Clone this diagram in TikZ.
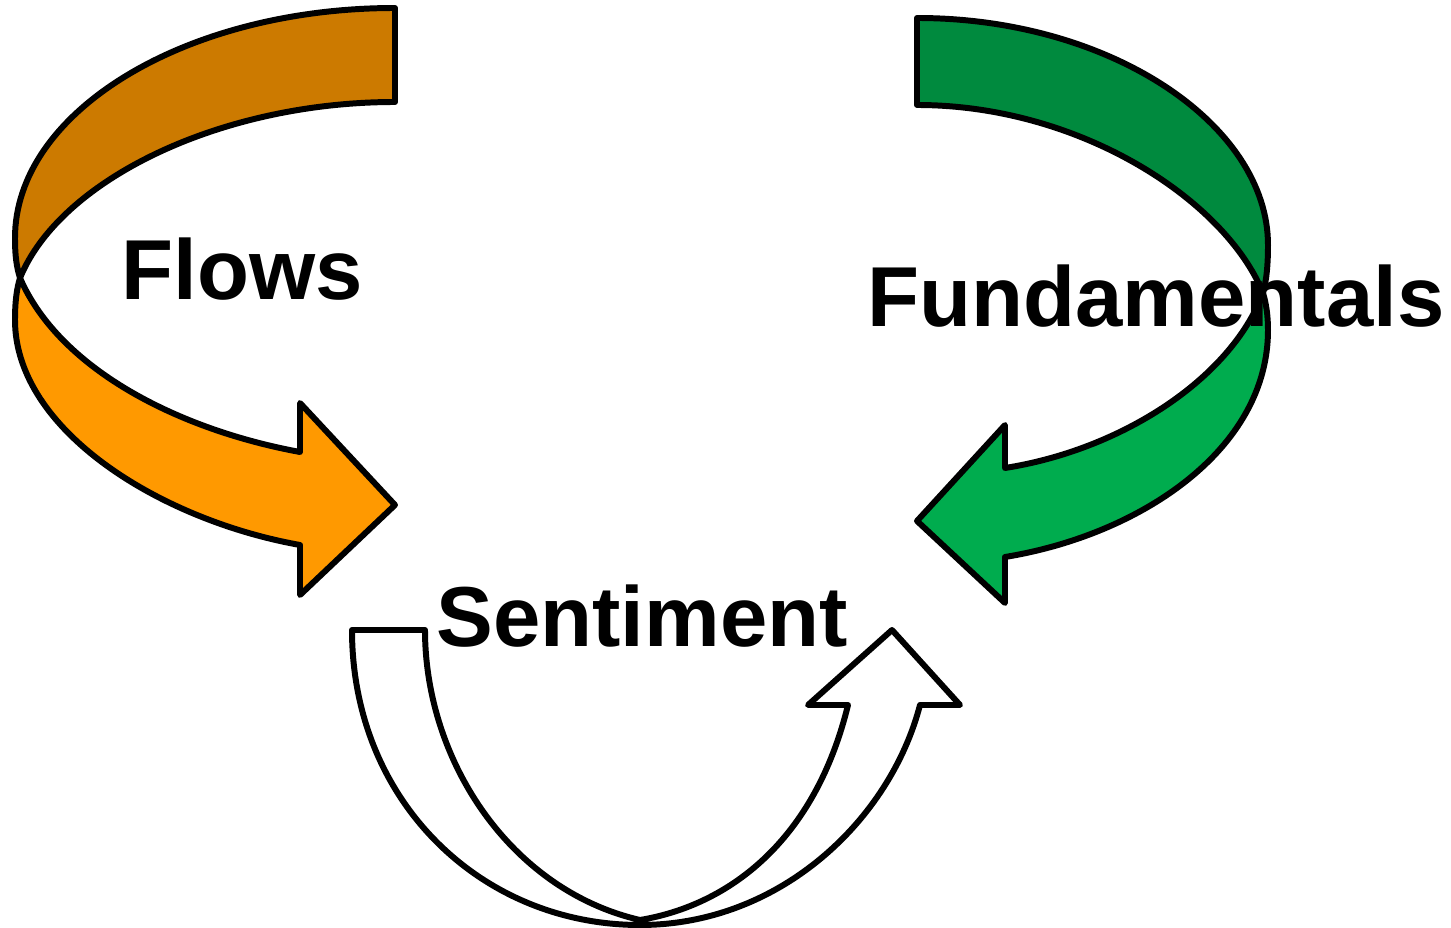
\documentclass[tikz,border=0pt]{standalone}
\usepackage{fontspec}
\setmainfont{Liberation Sans}
\definecolor{flowsback}{RGB}{204,122,0}
\definecolor{flowsfront}{RGB}{255,153,0}
\definecolor{fundback}{RGB}{0,138,62}
\definecolor{fundfront}{RGB}{0,172,78}
\tikzset{fleche/.style = {draw = black, line width = 1.7pt, line join = round, fill = #1},
         fleche/.default = white,
         titre/.style = {anchor = base, inner sep = 0pt,
                         font = \bfseries\fontsize{24.2}{29}\selectfont}
        }
\begin{document}
\begin{tikzpicture}[x=0.01cm, y=-0.01cm]
  \useasboundingbox (0,0) rectangle (1451,928);
  % Flows
  \draw[fleche = flowsback] (395,8) .. controls (185,8) and (15,112) .. (15,238)
        .. controls (15,258) and (17,268) .. (20,278)
        .. controls (60,180) and (220,102) .. (395,102) -- cycle;
  \draw[fleche = flowsfront] (20,278) .. controls (60,370) and (180,430) .. (300,452)
        -- (300,403) -- (395,505) -- (300,595) -- (300,545)
        .. controls (160,520) and (15,430) .. (15,320)
        .. controls (15,300) and (17,288) .. (20,278) -- cycle;
  % Fundamentals
  \draw[fleche = fundback] (917,18) .. controls (1111,18) and (1268,125) .. (1268,245)
        .. controls (1268,268) and (1266,282) .. (1263,293)
        .. controls (1225,200) and (1080,105) .. (917,105) -- cycle;
  \draw[fleche = fundfront] (1263,293) .. controls (1230,380) and (1120,450) .. (1005,468)
        -- (1005,425) -- (917,521) -- (1005,603) -- (1005,557)
        .. controls (1140,535) and (1268,450) .. (1268,330)
        .. controls (1268,315) and (1266,303) .. (1263,293) -- cycle;
  % Sentiment
  \draw[fleche] (352,630) .. controls (352,800) and (480,925) .. (640,925)
        .. controls (780,925) and (890,820) .. (920,705)
        -- (960,705) -- (892,630) -- (808,705) -- (848,705)
        .. controls (815,840) and (730,905) .. (640,920)
        .. controls (510,890) and (425,760) .. (425,630) -- cycle;
  \node[titre] (flows) at (242,300) {Flows};
  \node[titre] (fundamentals) at (1156,327) {Fundamentals};
  \node[titre] (sentiment) at (642,647) {Sentiment};
\end{tikzpicture}
\end{document}
